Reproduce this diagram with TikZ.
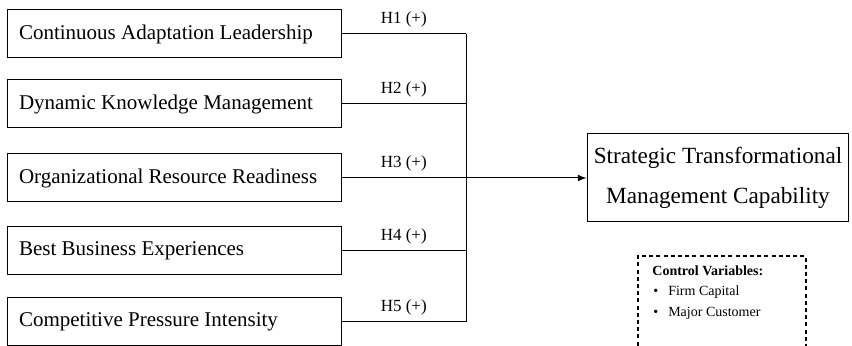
\documentclass[tikz,border=0pt]{standalone}
\usepackage{fontspec}
\setmainfont{Liberation Serif}
\usepackage{tikz}
\tikzstyle{factor}=[
  draw=black,
  line width=0.5pt,
  rectangle,
  minimum width=167pt,
  minimum height=24pt,
  text width=155pt,
  inner xsep=6pt,
  align=flush left,
  font=\fontsize{10.5}{12}\selectfont
]
\tikzstyle{outcome}=[
  draw=black,
  line width=0.5pt,
  rectangle,
  minimum width=130pt,
  minimum height=44pt,
  align=flush center,
  font=\fontsize{11.6}{20}\selectfont
]
\tikzstyle{hyp}=[
  font=\fontsize{8.5}{10}\selectfont
]
\tikzstyle{ctrl}=[
  font=\fontsize{7}{9}\selectfont,
  anchor=west,
  inner sep=0pt
]

\begin{document}
\begin{tikzpicture}[x=0.5pt,y=-0.5pt]
          \useasboundingbox (0,0) rectangle (852,346);
          \def \x {174}
          \def \xBus {466}

          % factors
          \node[factor] (f1) at (\x, 34) {Continuous Adaptation Leadership};
          \node[factor] (f2) at (\x, 104) {Dynamic Knowledge Management};
          \node[factor] (f3) at (\x, 178) {Organizational Resource Readiness};
          \node[factor] (f4) at (\x, 251) {Best Business Experiences};
          \node[factor] (f5) at (\x, 322) {Competitive Pressure Intensity};

          % out
          \node[outcome] (stm) at (718, 178) {Strategic Transformational\\Management Capability};
          \coordinate (bus) at (\xBus, 0);

          % connect ins
          \foreach \i in {1,...,5}{
            \draw[line width=0.5pt] (f\i.east) -- (f\i.east -| bus) node[midway,above,hyp] {H\i{} (+)};
          }
          \draw[line width=0.5pt] (f1.east -| bus) -- (f5.east -| bus);

          % connect out
          \draw[line width=0.5pt,-latex] (f3.east -| bus) -- (stm);

          % controls
          \node[draw=black,line width=0.7pt,dash pattern=on 2pt off 1.6pt,
                minimum width=84pt,minimum height=52pt] (cv) at (722, 308) {};
          \node[ctrl] (cvt) at (652, 271) {\textbf{Control Variables:}};
          \node[ctrl] (b1) at (653, 292) {\textbullet\hspace{5pt}Firm Capital};
          \node[ctrl] (b2) at (653, 313) {\textbullet\hspace{5pt}Major Customer};
        \end{tikzpicture}
\end{document}
